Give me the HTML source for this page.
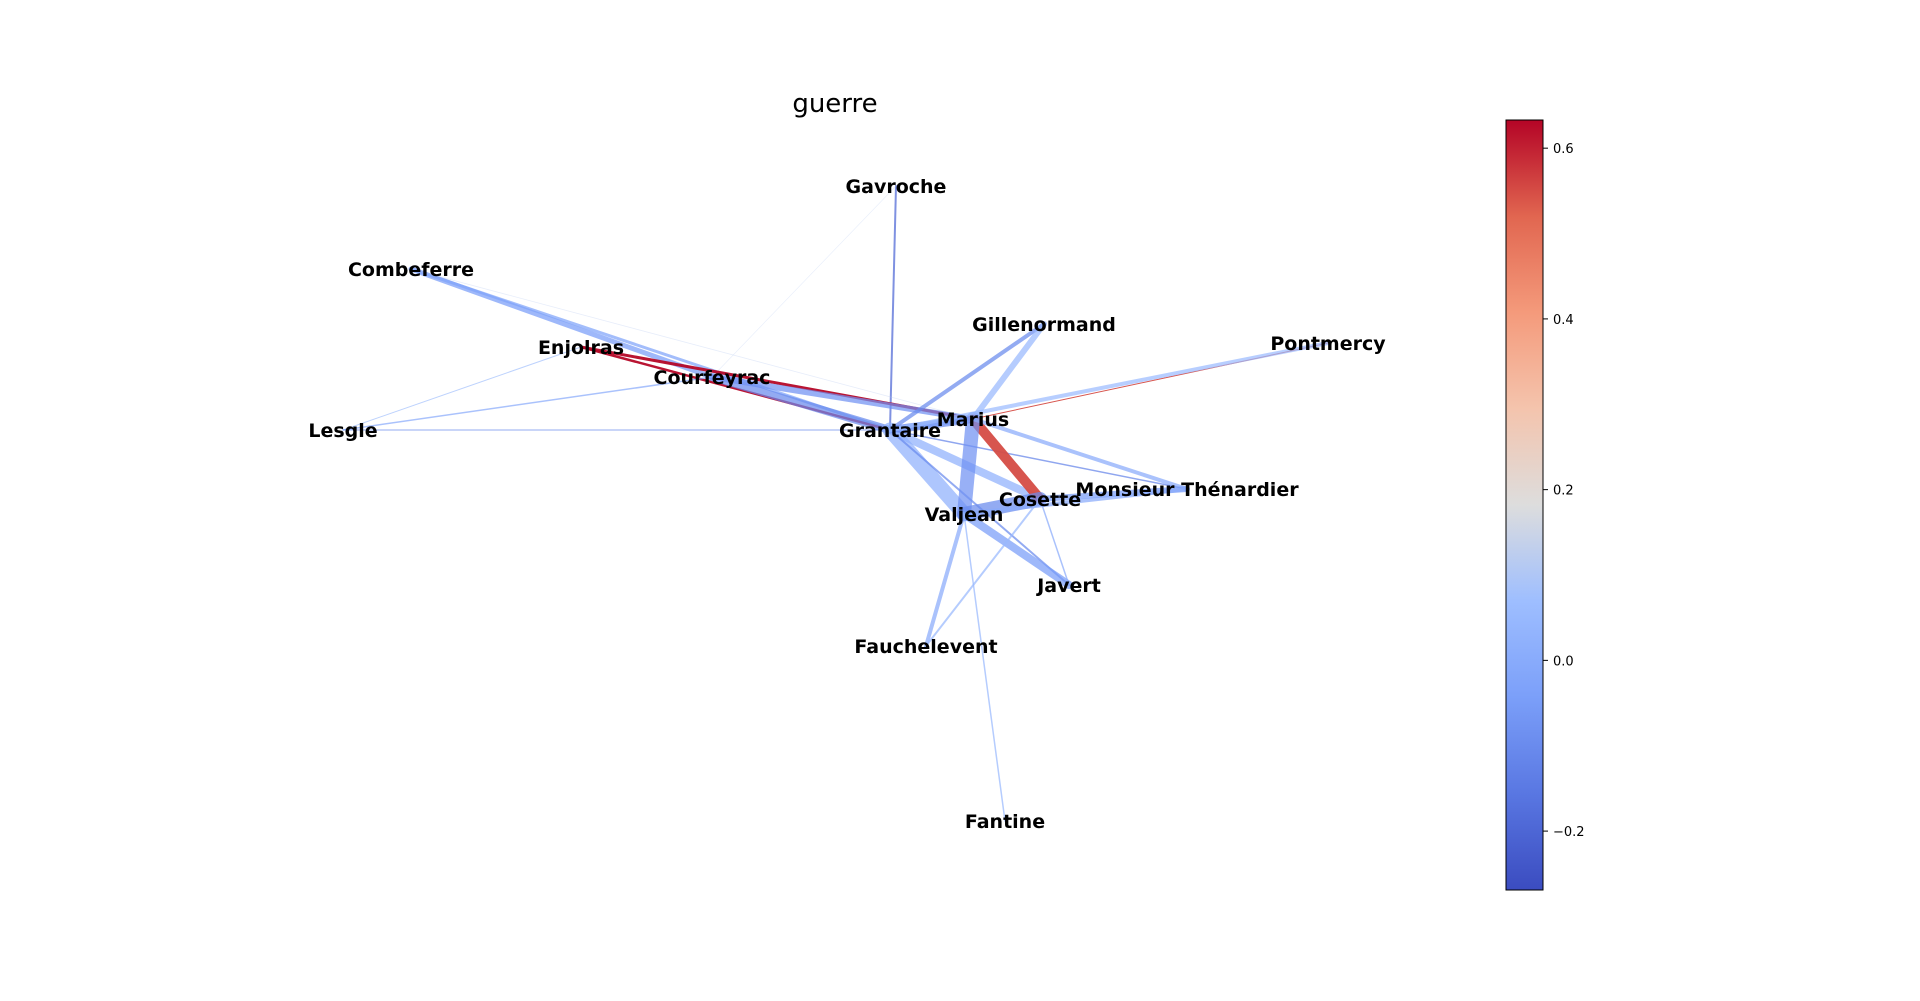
<!DOCTYPE html>
<html><head><meta charset="utf-8"><style>
html,body{margin:0;padding:0;background:#fff;}
svg{display:block;font-family:"DejaVu Sans","Liberation Sans",sans-serif;}
</style></head><body>
<svg id="chart" width="1920" height="1001">
<defs>
<linearGradient id="cmap" x1="0" y1="1" x2="0" y2="0">
<stop offset="0" stop-color="rgb(59,76,192)"/>
<stop offset="0.125" stop-color="rgb(89,119,226)"/>
<stop offset="0.25" stop-color="rgb(123,159,249)"/>
<stop offset="0.375" stop-color="rgb(158,190,255)"/>
<stop offset="0.5" stop-color="rgb(221,221,221)"/>
<stop offset="0.625" stop-color="rgb(244,196,173)"/>
<stop offset="0.75" stop-color="rgb(244,154,123)"/>
<stop offset="0.875" stop-color="rgb(225,102,80)"/>
<stop offset="1" stop-color="rgb(180,4,38)"/>
</linearGradient>
</defs>
<text x="835" y="112" font-size="26" text-anchor="middle" font-family="DejaVu Sans,Liberation Sans,sans-serif">guerre</text>
<g id="edges"></g>
<g id="labels"></g>
<g id="cbar"></g>
</svg>
<script>
const nodeNames = ["Gavroche","Combeferre","Enjolras","Courfeyrac","Lesgle","Grantaire","Marius","Gillenormand","Pontmercy","Monsieur Thénardier","Cosette","Valjean","Javert","Fauchelevent","Fantine"];
const nodeX = [896,411,581,712,343,890,973,1044,1328,1187,1040,964,1069,926,1005];
const nodeY = [186,269,347,377,430,430,419,324,343,489,499,514,585,646,821];
const edgeSource = ["Gavroche","Gavroche","Combeferre","Combeferre","Combeferre","Enjolras","Enjolras","Enjolras","Courfeyrac","Courfeyrac","Lesgle","Lesgle","Grantaire","Grantaire","Grantaire","Grantaire","Grantaire","Grantaire","Marius","Marius","Marius","Marius","Marius","Marius","Valjean","Cosette","Valjean","Valjean","Cosette","Valjean","Cosette","Valjean","Pontmercy"];
const edgeTarget = ["Grantaire","Courfeyrac","Courfeyrac","Grantaire","Marius","Marius","Grantaire","Lesgle","Grantaire","Marius","Grantaire","Courfeyrac","Marius","Gillenormand","Valjean","Cosette","Monsieur Thénardier","Javert","Gillenormand","Pontmercy","Cosette","Valjean","Monsieur Thénardier","Grantaire","Cosette","Monsieur Thénardier","Monsieur Thénardier","Javert","Javert","Fauchelevent","Fauchelevent","Fantine","Grantaire"];
const edgeValue = [-0.2,0.12,-0.05,-0.03,0.12,0.63,0.63,0.08,-0.1,-0.08,-0.1,0.0,-0.1,-0.1,0.02,0.02,-0.12,-0.1,0.05,0.55,0.55,-0.08,0.0,-0.05,-0.1,-0.05,0.0,-0.05,0.0,0.0,0.05,0.05,0.06];
const edgeWidth = [2,0.6,5,3,0.8,3,2.5,1,8,6,1,1.5,8,4,15,8,1.5,2,6,1,10,14,4,5,14,6,4,8,1.5,4,2,1.5,4];
const cbarTicks = [0.6,0.4,0.2,0.0,-0.2];
const vmin = -0.269, vmax = 0.633;

const stops=[[0,[59,76,192]],[0.125,[89,119,226]],[0.25,[123,159,249]],[0.375,[158,190,255]],[0.5,[221,221,221]],[0.625,[244,196,173]],[0.75,[244,154,123]],[0.875,[225,102,80]],[1,[180,4,38]]];
function cmap(v){let t=(v-vmin)/(vmax-vmin);t=Math.max(0,Math.min(1,t));
 for(let i=1;i<stops.length;i++){if(t<=stops[i][0]){const a=stops[i-1],b=stops[i];const f=(t-a[0])/(b[0]-a[0]);
  const c=a[1].map((x,k)=>Math.round(x+(b[1][k]-x)*f));return `rgb(${c[0]},${c[1]},${c[2]})`;}}
 return 'rgb(180,4,38)';}
const NS='http://www.w3.org/2000/svg';
const eg=document.getElementById('edges');
edgeSource.forEach((s,i)=>{
 const a=nodeNames.indexOf(s),b=nodeNames.indexOf(edgeTarget[i]);
 const l=document.createElementNS(NS,'line');
 l.setAttribute('x1',nodeX[a]);l.setAttribute('y1',nodeY[a]);
 l.setAttribute('x2',nodeX[b]);l.setAttribute('y2',nodeY[b]);
 l.setAttribute('stroke',cmap(edgeValue[i]));
 l.setAttribute('stroke-width',edgeWidth[i]);
 l.setAttribute('stroke-linecap','round');
 l.setAttribute('stroke-opacity',edgeWidth[i]<1?0.35:(edgeValue[i]>0.3?0.95:0.72));
 
 
 eg.appendChild(l);
});
const lg=document.getElementById('labels');
nodeNames.forEach((n,i)=>{
 const t=document.createElementNS(NS,'text');
 t.setAttribute('x',nodeX[i]);t.setAttribute('y',nodeY[i]+7);
 t.setAttribute('text-anchor','middle');t.setAttribute('font-size','19');t.setAttribute('font-weight','bold');
 t.textContent=n;
 
 
 lg.appendChild(t);
});
const cb=document.getElementById('cbar');
const cx=1506,cy=120,cw=37,ch=770;
function cbY(v){return cy+ch*(vmax-v)/(vmax-vmin);}
const r=document.createElementNS(NS,'rect');
r.setAttribute('x',cx);r.setAttribute('y',cy);r.setAttribute('width',cw);r.setAttribute('height',ch);
r.setAttribute('fill','url(#cmap)');r.setAttribute('stroke','#000');r.setAttribute('stroke-width','1');


cb.appendChild(r);
cbarTicks.forEach(v=>{
 const y=cbY(v);
 const tk=document.createElementNS(NS,'line');
 tk.setAttribute('x1',cx+cw);tk.setAttribute('x2',cx+cw+5);tk.setAttribute('y1',y);tk.setAttribute('y2',y);tk.setAttribute('stroke','#000');
 
 
 cb.appendChild(tk);
 const tx=document.createElementNS(NS,'text');
 tx.setAttribute('x',cx+cw+10);tx.setAttribute('y',y+5);tx.setAttribute('font-size','13');
 tx.textContent=(v<0?'\u2212':'')+Math.abs(v).toFixed(1);
 
 
 cb.appendChild(tx);
});
</script>
</body></html>
